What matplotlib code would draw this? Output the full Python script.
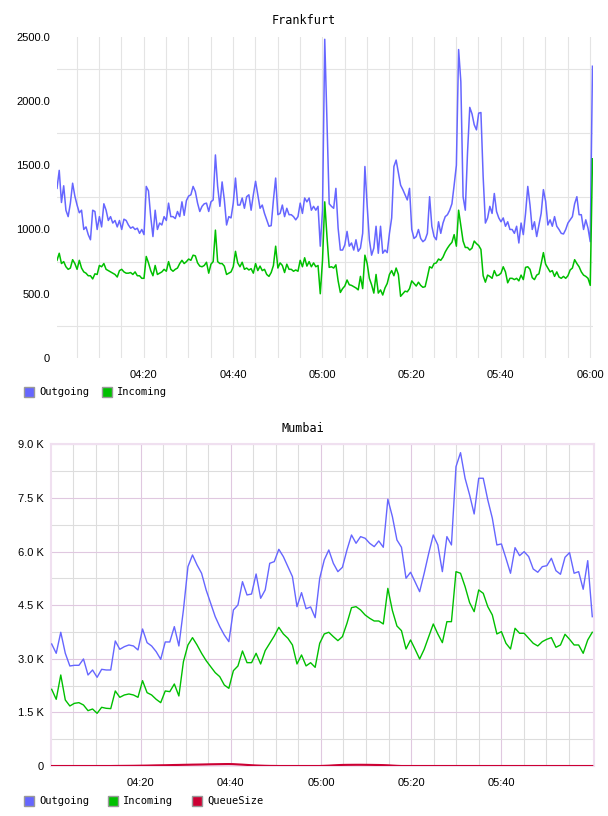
import numpy as np
import pandas as pd
import matplotlib
matplotlib.use('Agg')
import matplotlib.pyplot as plt
import matplotlib.dates as mdates
from matplotlib.patches import Rectangle

# Frankfurt, one sample every 30 s
fra_out = [1320, 1460, 1210, 1340, 1150, 1100, 1205, 1360, 1260, 1190,
           1130, 1150, 1000, 1020, 960, 920, 1150, 1140, 1000, 1100,
           1020, 1200, 1150, 1070, 1100, 1050, 1070, 1020, 1070, 1000,
           1080, 1070, 1035, 1010, 1020, 1000, 1010, 970, 1000, 960,
           1335, 1300, 1100, 945, 1150, 1000, 1050, 1035, 1100, 1070,
           1205, 1100, 1100, 1085, 1140, 1100, 1215, 1110, 1225, 1260,
           1270, 1335, 1295, 1205, 1140, 1180, 1200, 1205, 1140, 1215,
           1230, 1580, 1335, 1180, 1370, 1230, 1035, 1100, 1090, 1205,
           1400, 1190, 1190, 1245, 1165, 1255, 1270, 1150, 1270, 1375,
           1270, 1165, 1190, 1125, 1075, 1025, 1030, 1230, 1400, 1115,
           1125, 1190, 1100, 1165, 1115, 1115, 1100, 1075, 1100, 1205,
           1125, 1245, 1215, 1245, 1150, 1180, 1150, 1180, 870, 1150,
           2480, 1850, 1200, 1180, 1165, 1320, 1010, 840, 840, 880,
           985, 870, 895, 840, 920, 830, 855, 970, 1490, 1190,
           920, 800, 855, 1025, 815, 1025, 815, 840, 820, 970,
           1090, 1490, 1540, 1440, 1345, 1310, 1270, 1230, 1320, 1000,
           930, 945, 1000, 930, 905, 920, 970, 1255, 1025, 945,
           920, 1060, 970, 1050, 1100, 1115, 1150, 1200, 1345, 1500,
           2400, 2150, 1255, 1150, 1600, 1950, 1900, 1815, 1775, 1905,
           1910, 1410, 1050, 1090, 1180, 1125, 1280, 1140, 1090, 1060,
           1090, 1025, 1060, 1000, 1000, 970, 1025, 895, 1050, 960,
           1125, 1335, 1190, 1000, 1060, 945, 1035, 1125, 1310, 1220,
           1035, 1075, 1025, 1100, 1025, 1000, 970, 965, 1000, 1050,
           1075, 1100, 1200, 1255, 1115, 1115, 1000, 1075, 1010, 905,
           2270]
fra_in = [760, 815, 735, 750, 710, 690, 700, 765, 735, 690,
          760, 700, 670, 660, 640, 640, 615, 655, 650, 720,
          710, 735, 690, 680, 670, 660, 650, 630, 680, 690,
          670, 660, 660, 665, 650, 670, 640, 640, 620, 620,
          790, 740, 680, 640, 720, 650, 660, 670, 690, 675,
          750, 690, 675, 690, 700, 735, 760, 735, 750, 770,
          760, 800, 795, 740, 715, 710, 720, 745, 660, 730,
          750, 995, 750, 735, 735, 715, 650, 660, 670, 710,
          830, 740, 710, 745, 690, 700, 685, 695, 660, 735,
          680, 715, 680, 690, 650, 635, 665, 720, 870, 700,
          740, 720, 665, 730, 690, 690, 675, 685, 675, 760,
          710, 780, 715, 750, 710, 740, 710, 720, 500, 760,
          1215, 945, 705, 710, 700, 725, 600, 510, 540, 560,
          607, 570, 565, 555, 545, 530, 635, 540, 800, 737,
          620, 570, 505, 650, 505, 530, 490, 545, 580, 650,
          680, 640, 700, 650, 480, 500, 520, 515, 540, 600,
          580, 560, 590, 565, 550, 555, 630, 710, 700, 735,
          740, 770, 760, 785, 825, 855, 880, 900, 960, 870,
          1150, 1030, 910, 860, 860, 840, 855, 910, 890, 875,
          845, 640, 590, 645, 635, 620, 680, 640, 645, 660,
          710, 670, 585, 620, 620, 610, 620, 600, 645, 610,
          705, 710, 690, 625, 610, 645, 655, 735, 820, 730,
          700, 670, 680, 635, 670, 630, 620, 635, 620, 640,
          685, 700, 765, 735, 710, 670, 645, 635, 620, 565,
          1550]

# Mumbai, roughly one sample per minute
mum_out = [3414, 3153, 3741, 3153, 2798, 2817, 2817, 2994, 2546, 2686,
           2481, 2705, 2686, 2686, 3498, 3265, 3339, 3386, 3358, 3246,
           3833, 3451, 3358, 3200, 2985, 3470, 3470, 3899, 3358, 4365,
           5577, 5904, 5624, 5391, 4925, 4552, 4178, 3900, 3665, 3479,
           4365, 4505, 5157, 4785, 4812, 5372, 4692, 4925, 5671, 5718,
           6063, 5857, 5577, 5297, 4457, 4850, 4400, 4450, 4150, 5250,
           5764, 6044, 5671, 5437, 5559, 6044, 6463, 6231, 6417, 6371,
           6231, 6137, 6296, 6119, 7463, 6977, 6324, 6119, 5252, 5420,
           5150, 4877, 5392, 5951, 6463, 6184, 5437, 6417, 6184, 8374,
           8766, 8050, 7583, 7051, 8050, 8050, 7443, 6931, 6184, 6212,
           5811, 5392, 6108, 5885, 5997, 5857, 5512, 5420, 5577, 5604,
           5811, 5465, 5364, 5839, 5969, 5392, 5437, 4944, 5745, 4178]
mum_in = [2145, 1866, 2546, 1847, 1679, 1753, 1772, 1707, 1548, 1595,
          1474, 1642, 1614, 1605, 2099, 1922, 1987, 2015, 1987, 1922,
          2388, 2052, 1987, 1866, 1772, 2099, 2080, 2294, 1959, 2919,
          3386, 3591, 3386, 3153, 2948, 2779, 2612, 2499, 2266, 2173,
          2667, 2798, 3218, 2891, 2891, 3153, 2854, 3228, 3433, 3638,
          3880, 3694, 3573, 3386, 2854, 3106, 2800, 2890, 2760, 3433,
          3694, 3741, 3619, 3507, 3619, 3992, 4430, 4458, 4365, 4225,
          4132, 4057, 4057, 3973, 4970, 4350, 3917, 3786, 3274, 3526,
          3265, 2994, 3265, 3619, 3973, 3694, 3451, 4038, 4038, 5437,
          5392, 5019, 4570, 4318, 4925, 4831, 4458, 4225, 3694, 3759,
          3433, 3274, 3853, 3713, 3713, 3573, 3433, 3358, 3479, 3545,
          3591, 3321, 3386, 3685, 3545, 3386, 3386, 3153, 3526, 3741]
mum_queue = [0, 0, 0, 0, 0, 0, 0, 0, 0, 0,
             0, 0, 0, 0, 2, 3, 4, 5, 6, 8,
             10, 12, 15, 18, 20, 22, 25, 28, 30, 33,
             35, 38, 40, 42, 45, 48, 50, 52, 54, 55,
             52, 45, 38, 30, 22, 15, 10, 6, 3, 2,
             0, 0, 0, 0, 0, 0, 0, 0, 0, 0,
             5, 10, 18, 25, 30, 32, 33, 34, 34, 33,
             32, 30, 28, 25, 20, 12, 5, 0, 0, 0,
             0, 0, 0, 0, 0, 0, 0, 0, 0, 0,
             0, 0, 0, 0, 0, 0, 0, 0, 0, 0,
             0, 0, 0, 0, 0, 0, 0, 0, 0, 0,
             0, 0, 0, 0, 0, 0, 0, 0, 0, 0]

fra_xticks = ['04:20', '04:40', '05:00', '05:20', '05:40', '06:00']
mum_xticks = ['04:20', '04:40', '05:00', '05:20', '05:40']
fra_yticks = [0, 500, 1000, 1500, 2000, 2500]
mum_yticks = [0, 1500, 3000, 4500, 6000, 7500, 9000]

BLUE = '#6666ff'
GREEN = '#00c000'
RED = '#cc0033'
DAY = '2024-01-01 '
W, H = 608, 816


def box(l, t, r, b):
    return [l / W, 1 - b / H, (r - l) / W, (b - t) / H]


def tnum(s):
    return mdates.date2num(pd.Timestamp(DAY + s))


def legend(y, items):
    for x, label, color in items:
        fig.add_artist(Rectangle((x / W, 1 - (y + 5) / H), 10 / W, 10 / H,
                                 transform=fig.transFigure, facecolor=color,
                                 edgecolor='#999999', lw=1))
        fig.text((x + 15) / W, 1 - y / H, label, ha='left', va='center',
                 family='DejaVu Sans Mono', size=7.5)


fig = plt.figure(figsize=(W / 100, H / 100), dpi=100)

# ---- Frankfurt ----
ax1 = fig.add_axes(box(57, 36.7, 593, 358))
fra_t = pd.date_range(DAY + '04:00:33', periods=len(fra_out), freq='30s')
ax1.plot(fra_t, fra_out, color=BLUE, lw=1.1, zorder=3)
ax1.plot(fra_t, fra_in, color=GREEN, lw=1.1, zorder=3)
ax1.set_xlim(tnum('04:00:33'), tnum('06:00:40'))
ax1.set_ylim(0, 2500)
ax1.set_xticks([tnum(s) for s in fra_xticks])
ax1.set_xticklabels(fra_xticks)
ax1.set_xticks([tnum('04:00') + m / 1440 for m in range(5, 121, 5)], minor=True)
ax1.set_yticks(fra_yticks)
ax1.set_yticklabels(['0' if v == 0 else f'{v:.1f}' for v in fra_yticks])
ax1.set_yticks([v + 250 for v in fra_yticks[:-1]], minor=True)
ax1.grid(axis='x', which='both', color='#e4e4e4', lw=0.8)
ax1.grid(axis='y', which='minor', color='#e4e4e4', lw=0.8)
ax1.grid(axis='y', which='major', visible=False)
for s in ax1.spines.values():
    s.set_visible(False)
ax1.tick_params(which='both', length=0)
ax1.tick_params(axis='x', pad=9)
ax1.tick_params(axis='y', pad=5)
fig.text(304 / W, 1 - 20.5 / H, 'Frankfurt', ha='center', va='center',
         family='DejaVu Sans Mono', size=8.5)
legend(392, [(24, 'Outgoing', BLUE), (102, 'Incoming', GREEN)])

# ---- Mumbai ----
ax2 = fig.add_axes(box(50.7, 444.3, 594, 766))
mum_t = pd.date_range(DAY + '04:00:15', DAY + '06:00:12', periods=len(mum_out))
ax2.plot(mum_t, mum_out, color=BLUE, lw=1.0, zorder=3)
ax2.plot(mum_t, mum_in, color=GREEN, lw=1.0, zorder=3)
ax2.plot(mum_t, mum_queue, color=RED, lw=1.5, zorder=4)
ax2.set_xlim(tnum('04:00:02'), tnum('06:00:35'))
ax2.set_ylim(0, 9000)
ax2.set_xticks([tnum(s) for s in mum_xticks])
ax2.set_xticklabels(mum_xticks)
ax2.set_xticks([tnum('04:00') + m / 1440 for m in range(5, 121, 5) if m % 20], minor=True)
ax2.set_yticks(mum_yticks)
ax2.set_yticklabels(['0' if v == 0 else f'{v / 1000:.1f} K' for v in mum_yticks])
ax2.set_yticks([v + 750 for v in mum_yticks[:-1]], minor=True)
ax2.grid(which='major', color='#e0c8e0', lw=0.8)
ax2.grid(which='minor', color='#dddddd', lw=0.8)
for s in ax2.spines.values():
    s.set_color('#f0e0f0')
    s.set_linewidth(1.5)
ax2.tick_params(which='both', length=0)
ax2.tick_params(axis='x', pad=9)
ax2.tick_params(axis='y', pad=5)
fig.text(303 / W, 1 - 428.5 / H, 'Mumbai', ha='center', va='center',
         family='DejaVu Sans Mono', size=8.5)
legend(801, [(24, 'Outgoing', BLUE), (108, 'Incoming', GREEN), (192, 'QueueSize', RED)])

for ax in (ax1, ax2):
    ax.set_axisbelow(True)
    for lab in ax.get_xticklabels() + ax.get_yticklabels():
        lab.set_family('Liberation Sans')
        lab.set_fontsize(8)

fig.savefig('out.png', dpi=100)
